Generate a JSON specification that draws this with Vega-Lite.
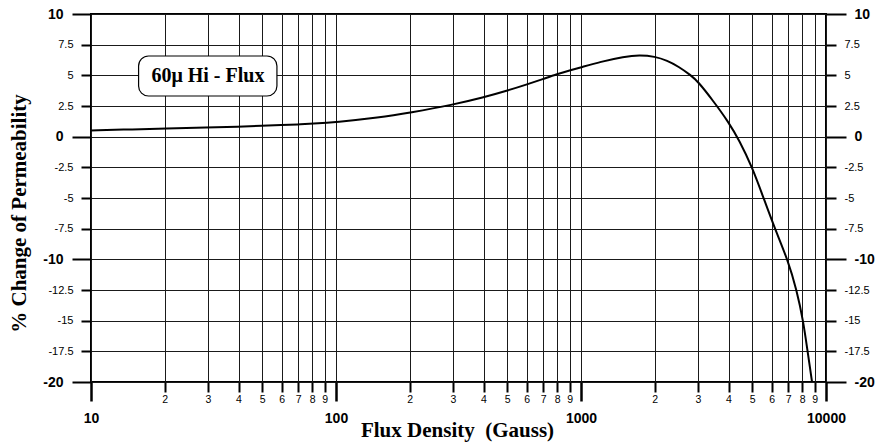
{
  "$schema": "https://vega.github.io/schema/vega-lite/v6.json",
  "width": 735,
  "height": 368,
  "autosize": {"type": "none"},
  "padding": {"left": 91, "top": 14, "right": 50, "bottom": 64},
  "background": "white",
  "config": {
    "view": {"stroke": "black", "strokeWidth": 2},
    "axis": {"labelFont": "Liberation Sans", "titleFont": "Liberation Serif", "labelColor": "black", "tickColor": "black", "domain": false, "gridColor": "#1a1a1a", "gridWidth": 1, "gridOpacity": 1, "labelOverlap": false, "labelFlush": false, "labelBound": false}
  },
  "datasets": {
    "curve": [
      {"flux": 10, "pct": 0.5},
      {"flux": 15, "pct": 0.6},
      {"flux": 20, "pct": 0.66},
      {"flux": 30, "pct": 0.75},
      {"flux": 40, "pct": 0.82},
      {"flux": 50, "pct": 0.88},
      {"flux": 60, "pct": 0.95},
      {"flux": 70, "pct": 1.0},
      {"flux": 80, "pct": 1.06},
      {"flux": 100, "pct": 1.18},
      {"flux": 150, "pct": 1.55},
      {"flux": 200, "pct": 1.95},
      {"flux": 300, "pct": 2.6},
      {"flux": 400, "pct": 3.2},
      {"flux": 500, "pct": 3.75},
      {"flux": 600, "pct": 4.25},
      {"flux": 700, "pct": 4.7},
      {"flux": 800, "pct": 5.1},
      {"flux": 900, "pct": 5.4},
      {"flux": 1000, "pct": 5.65},
      {"flux": 1200, "pct": 6.1},
      {"flux": 1500, "pct": 6.52},
      {"flux": 1730, "pct": 6.66},
      {"flux": 2000, "pct": 6.54},
      {"flux": 2250, "pct": 6.2},
      {"flux": 2500, "pct": 5.72},
      {"flux": 2810, "pct": 5.0},
      {"flux": 3000, "pct": 4.5},
      {"flux": 3440, "pct": 3.0},
      {"flux": 4000, "pct": 1.2},
      {"flux": 4425, "pct": -0.3},
      {"flux": 5000, "pct": -2.5},
      {"flux": 5560, "pct": -5},
      {"flux": 6210, "pct": -7.6},
      {"flux": 7000, "pct": -10.1},
      {"flux": 7590, "pct": -12.5},
      {"flux": 8070, "pct": -15},
      {"flux": 8410, "pct": -17.5},
      {"flux": 8600, "pct": -18.8},
      {"flux": 8770, "pct": -20}
    ],
    "box": [
      {"x1": 15.64, "x2": 57.4, "y1": 6.576, "y2": 3.315, "xc": 30, "yc": 4.95, "label": "60μ Hi - Flux"}
    ]
  },
  "resolve": {"axis": {"x": "independent", "y": "independent"}},
  "layer": [
    {
      "data": {"name": "curve"},
      "mark": {"type": "line", "stroke": "black", "strokeWidth": 2, "interpolate": "basis", "clip": true},
      "encoding": {
        "x": {
          "field": "flux", "type": "quantitative",
          "scale": {"type": "log", "domain": [10, 10000], "nice": false},
          "axis": {
            "orient": "bottom", "title": null,
            "values": [20, 30, 40, 50, 60, 70, 80, 90, 200, 300, 400, 500, 600, 700, 800, 900, 2000, 3000, 4000, 5000, 6000, 7000, 8000, 9000],
            "labelExpr": "substring(toString(datum.value), 0, 1)",
            "tickSize": 10, "tickWidth": 2, "labelFontSize": 10.5, "labelPadding": 2, "grid": true
          }
        },
        "y": {
          "field": "pct", "type": "quantitative",
          "scale": {"domain": [-20, 10], "nice": false, "zero": false},
          "axis": {
            "orient": "left",
            "values": [7.5, 5, 2.5, -2.5, -5, -7.5, -12.5, -15, -17.5],
            "labelExpr": "toString(datum.value)",
            "tickSize": 10, "tickWidth": 2, "labelFontSize": 11, "labelPadding": 8, "grid": true,
            "title": "% Change of Permeability", "titleFontSize": 21, "titleFontWeight": "bold",
            "titleX": -72, "titleY": 199, "titleAngle": -90, "titleAlign": "center", "titleBaseline": "middle"
          }
        }
      }
    },
    {
      "data": {"name": "box"},
      "mark": {"type": "rect", "fill": "white", "stroke": "black", "strokeWidth": 1.2, "cornerRadius": 10},
      "encoding": {
        "x": {
          "field": "x1", "type": "quantitative",
          "scale": {"type": "log", "domain": [10, 10000], "nice": false},
          "axis": {
            "orient": "bottom",
            "values": [10, 100, 1000, 10000],
            "labelExpr": "toString(datum.value)",
            "tickSize": 19, "tickWidth": 2.5, "labelFontSize": 14, "labelFontWeight": "bold", "labelPadding": 10, "grid": true,
            "title": "Flux Density \u00a0(Gauss)", "titleFontSize": 21, "titleFontWeight": "bold",
            "titleX": 366, "titleY": 48, "titleAlign": "center", "titleBaseline": "middle"
          }
        },
        "x2": {"field": "x2"},
        "y": {
          "field": "y1", "type": "quantitative",
          "scale": {"domain": [-20, 10], "nice": false, "zero": false},
          "axis": {
            "orient": "left", "title": null,
            "values": [10, 0, -10, -20],
            "labelExpr": "toString(datum.value)",
            "tickSize": 19, "tickWidth": 2, "labelFontSize": 14, "labelFontWeight": "bold", "labelPadding": 9, "grid": true
          }
        },
        "y2": {"field": "y2"}
      }
    },
    {
      "data": {"name": "box"},
      "mark": {"type": "text", "font": "Liberation Serif", "fontWeight": "bold", "fontSize": 20, "color": "black", "align": "center", "baseline": "middle"},
      "encoding": {
        "x": {"field": "xc", "type": "quantitative", "scale": {"type": "log", "domain": [10, 10000], "nice": false}, "axis": null},
        "y": {
          "field": "yc", "type": "quantitative",
          "scale": {"domain": [-20, 10], "nice": false, "zero": false},
          "axis": {
            "orient": "right", "title": null,
            "values": [7.5, 5, 2.5, -2.5, -5, -7.5, -12.5, -15, -17.5],
            "labelExpr": "toString(datum.value)",
            "tickSize": 10, "tickWidth": 2, "labelFontSize": 11, "labelPadding": 8, "grid": false
          }
        },
        "text": {"field": "label"}
      }
    },
    {
      "data": {"name": "box"},
      "mark": {"type": "point", "opacity": 0},
      "encoding": {
        "x": {"field": "xc", "type": "quantitative", "scale": {"type": "log", "domain": [10, 10000], "nice": false}, "axis": null},
        "y": {
          "field": "yc", "type": "quantitative",
          "scale": {"domain": [-20, 10], "nice": false, "zero": false},
          "axis": {
            "orient": "right", "title": null,
            "values": [10, 0, -10, -20],
            "labelExpr": "toString(datum.value)",
            "tickSize": 20, "tickWidth": 2, "labelFontSize": 14, "labelFontWeight": "bold", "labelPadding": 8, "grid": false
          }
        }
      }
    }
  ]
}
